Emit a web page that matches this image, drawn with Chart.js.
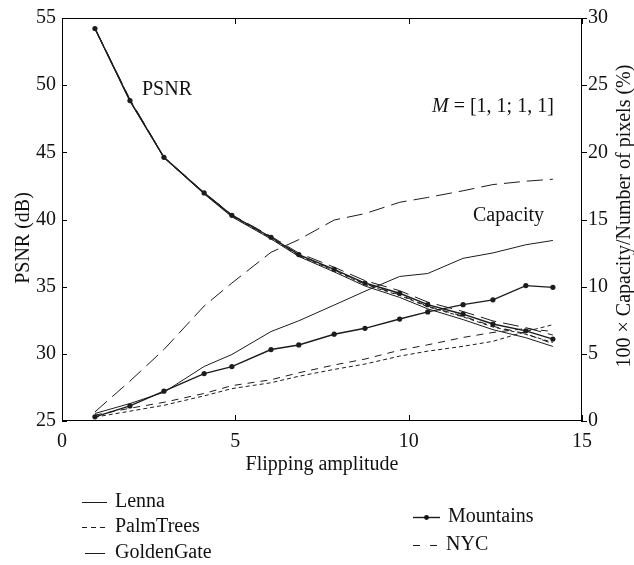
<!DOCTYPE html>
<html><head><meta charset="utf-8">
<script src="https://cdn.jsdelivr.net/npm/chart.js@4/dist/chart.umd.min.js"></script>
<style>html,body{margin:0;padding:0;background:#fff}#wrap{width:634px;height:565px;position:relative}</style>
</head><body><div id="wrap"><canvas id="c" width="634" height="565"></canvas></div>
<script>
// ---- data ----
const amplitudes = [0.95, 1.96, 2.94, 4.10, 4.90, 6.03, 6.83, 7.85, 8.74, 9.74, 10.55, 11.57, 12.43, 13.38, 14.16];
const seriesNames = ['Lenna', 'PalmTrees', 'GoldenGate', 'Mountains', 'NYC'];
const psnrLenna      = [54.20, 48.80, 44.60, 41.90, 40.20, 38.55, 37.25, 36.10, 35.05, 34.20, 33.35, 32.55, 31.80, 31.20, 30.55];
const psnrPalmTrees  = [54.20, 48.85, 44.60, 41.95, 40.25, 38.60, 37.30, 36.20, 35.15, 34.35, 33.50, 32.75, 32.00, 31.45, 30.85];
const psnrGoldenGate = [54.25, 48.95, 44.65, 42.00, 40.35, 38.75, 37.50, 36.45, 35.45, 34.70, 33.85, 33.15, 32.45, 31.95, 31.40];
const psnrMountains  = [54.22, 48.85, 44.63, 41.98, 40.31, 38.68, 37.39, 36.29, 35.27, 34.51, 33.66, 32.95, 32.22, 31.71, 31.10];
const psnrNYC        = [54.25, 48.90, 44.65, 41.95, 40.30, 38.65, 37.35, 36.25, 35.20, 34.40, 33.55, 32.80, 32.05, 31.50, 30.75];
const capLenna       = [0.56, 1.30, 2.14, 4.06, 4.95, 6.66, 7.46, 8.63, 9.66, 10.76, 10.98, 12.11, 12.51, 13.12, 13.44];
const capPalmTrees   = [0.29, 0.73, 1.17, 1.87, 2.41, 2.85, 3.33, 3.84, 4.24, 4.83, 5.20, 5.56, 5.93, 6.66, 7.17];
const capGoldenGate  = [0.68, 2.97, 5.32, 8.56, 10.27, 12.56, 13.50, 14.96, 15.44, 16.28, 16.64, 17.14, 17.60, 17.85, 18.00];
const capMountains   = [0.31, 1.12, 2.22, 3.53, 4.05, 5.32, 5.66, 6.46, 6.90, 7.59, 8.12, 8.66, 9.02, 10.08, 9.95];
const capNYC         = [0.44, 0.95, 1.39, 2.05, 2.63, 3.07, 3.59, 4.17, 4.61, 5.27, 5.67, 6.22, 6.59, 6.88, 6.66];
const xTicks = [0, 5, 10, 15];
const psnrTicks = [25, 30, 35, 40, 45, 50, 55];
const capTicks = [0, 5, 10, 15, 20, 25, 30];

// ---- styles ----
const FONT = '"Liberation Serif", "DejaVu Serif", serif';
const INK = '#1c1c1c';
const dashes = { Lenna: [], PalmTrees: [4, 3], GoldenGate: [16, 7], Mountains: [], NYC: [7, 6] };

function pts(ys) { return ys.map((y, i) => ({ x: amplitudes[i], y })); }
function ds(name, ys, axis) {
  const m = name === 'Mountains';
  return {
    label: name, data: pts(ys), yAxisID: axis,
    borderColor: INK, backgroundColor: INK,
    borderWidth: m ? 1.4 : 1, borderDash: dashes[name],
    pointRadius: m ? 2.6 : 0, pointHoverRadius: 0, pointBorderWidth: 0,
    tension: 0, fill: false
  };
}
const datasets = [
  ds('Lenna', psnrLenna, 'y'), ds('PalmTrees', psnrPalmTrees, 'y'), ds('GoldenGate', psnrGoldenGate, 'y'),
  ds('NYC', psnrNYC, 'y'), ds('Mountains', psnrMountains, 'y'),
  ds('Lenna', capLenna, 'y1'), ds('PalmTrees', capPalmTrees, 'y1'), ds('GoldenGate', capGoldenGate, 'y1'),
  ds('NYC', capNYC, 'y1'), ds('Mountains', capMountains, 'y1')
];

function seg(ctx, x1, y1, x2, y2) { ctx.beginPath(); ctx.moveTo(x1, y1); ctx.lineTo(x2, y2); ctx.stroke(); }

const decor = {
  id: 'decor',
  afterDraw(chart) {
    const { ctx, chartArea: a, scales } = chart;
    ctx.save();
    ctx.strokeStyle = '#000'; ctx.lineWidth = 1; ctx.setLineDash([]);
    ctx.strokeRect(a.left + 0.5, a.top + 0.5, a.right - a.left - 1, a.bottom - a.top - 1);
    xTicks.forEach(v => {
      const p = Math.round(scales.x.getPixelForValue(v)) + 0.5;
      seg(ctx, p, a.bottom, p, a.bottom - 6);
      seg(ctx, p, a.top, p, a.top + 6);
    });
    psnrTicks.forEach(v => {
      const p = Math.round(scales.y.getPixelForValue(v)) + 0.5;
      seg(ctx, a.left, p, a.left + 5, p);
    });
    capTicks.forEach(v => {
      const p = Math.round(scales.y1.getPixelForValue(v)) + 0.5;
      seg(ctx, a.right - 1, p, a.right + 5, p);
    });
    ctx.fillStyle = '#111';
    ctx.font = '20px ' + FONT;
    // y-axis titles (rotated, reading bottom to top)
    ctx.save(); ctx.translate(29, 238); ctx.rotate(-Math.PI / 2);
    ctx.textAlign = 'center'; ctx.textBaseline = 'alphabetic';
    ctx.fillText('PSNR (dB)', 0, 0); ctx.restore();
    ctx.save(); ctx.translate(630, 216); ctx.rotate(-Math.PI / 2);
    ctx.textAlign = 'center'; ctx.textBaseline = 'alphabetic';
    ctx.fillText('100 × Capacity/Number of pixels (%)', 0, 0); ctx.restore();
    // annotations
    ctx.textAlign = 'left'; ctx.textBaseline = 'middle';
    ctx.fillText('PSNR', 142, 90);
    ctx.fillText('Capacity', 473, 216);
    ctx.font = 'italic 20px ' + FONT;
    const mW = ctx.measureText('M').width;
    ctx.fillText('M', 432, 107);
    ctx.font = '20px ' + FONT;
    ctx.fillText(' = [1, 1; 1, 1]', 432 + mW, 107);
    // legend
    ctx.strokeStyle = INK; ctx.lineWidth = 1;
    const leg = [
      { n: 'Lenna', x1: 82, x2: 107, y: 502, d: [] },
      { n: 'PalmTrees', x1: 82, x2: 107, y: 527, d: [5, 4] },
      { n: 'GoldenGate', x1: 85, x2: 105, y: 553, d: [] },
      { n: 'Mountains', x1: 413, x2: 440, y: 517, d: [] },
      { n: 'NYC', x1: 413, x2: 438, y: 545, d: [7, 10] }
    ];
    leg.forEach(L => {
      ctx.setLineDash(L.d);
      ctx.lineWidth = L.n === 'Mountains' ? 1.4 : 1;
      seg(ctx, L.x1, L.y + 0.5, L.x2, L.y + 0.5);
      ctx.setLineDash([]);
      if (L.n === 'Mountains') {
        ctx.beginPath(); ctx.arc((L.x1 + L.x2) / 2, L.y + 0.5, 2.4, 0, Math.PI * 2); ctx.fill();
      }
      ctx.fillText(L.n, L.x2 + (L.n === 'GoldenGate' ? 10 : 8), L.y);
    });
    ctx.restore();
  }
};

Chart.defaults.font.family = FONT;
Chart.defaults.font.size = 20;
Chart.defaults.color = '#111';

new Chart(document.getElementById('c'), {
  type: 'line',
  data: { datasets },
  options: {
    responsive: false, animation: false, devicePixelRatio: 1,
    layout: { padding: { top: 11, left: 0, right: 0, bottom: 0 } },
    plugins: { legend: { display: false }, tooltip: { enabled: false } },
    scales: {
      x: {
        type: 'linear', min: 0, max: 15,
        afterBuildTicks: s => { s.ticks = xTicks.map(v => ({ value: v })); },
        afterFit: s => { s.height = 144; },
        grid: { display: false, drawTicks: false }, border: { display: false },
        ticks: { padding: 9, maxRotation: 0, color: '#111' },
        title: { display: true, text: 'Flipping amplitude', color: '#111', padding: { top: 0, bottom: 88 } }
      },
      y: {
        position: 'left', min: 25, max: 55,
        afterBuildTicks: s => { s.ticks = psnrTicks.map(v => ({ value: v })); },
        afterFit: s => { s.width = 62; },
        grid: { display: false, drawTicks: false }, border: { display: false },
        ticks: { padding: 6, color: '#111' }
      },
      y1: {
        position: 'right', min: 0, max: 30,
        afterBuildTicks: s => { s.ticks = capTicks.map(v => ({ value: v })); },
        afterFit: s => { s.width = 52; },
        grid: { display: false, drawTicks: false }, border: { display: false },
        ticks: { padding: 6, color: '#111' }
      }
    }
  },
  plugins: [decor]
});
</script>
</body></html>
